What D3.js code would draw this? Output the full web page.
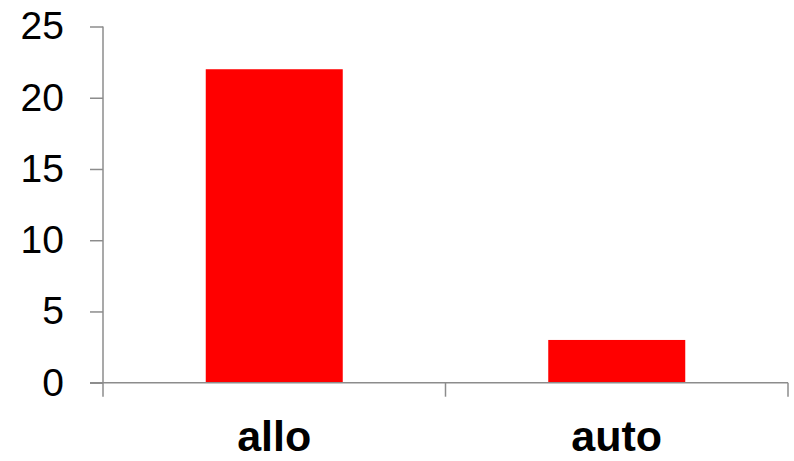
<!DOCTYPE html>
<html>
<head>
<meta charset="utf-8">
<script src="https://cdn.jsdelivr.net/npm/d3@7"></script>
<style>
  body { margin: 0; background: #fff; }
  svg { display: block; font-family: Arial, "Liberation Sans", sans-serif; }
</style>
</head>
<body>
<div id="chart"></div>
<script>
var categories = ['allo', 'auto'];
var values = [22, 3];
var yTicks = [0, 5, 10, 15, 20, 25];

var width = 794, height = 461;
var axisColor = '#8c8c8c';

var svg = d3.select('#chart').append('svg')
    .attr('width', width)
    .attr('height', height);

var x = d3.scaleBand()
    .domain(categories)
    .range([103, 788])
    .paddingInner(0.6)
    .paddingOuter(0.3);

var y = d3.scaleLinear()
    .domain([0, 25])
    .range([382.7, 26.5]);

// bars
svg.selectAll('rect.bar')
    .data(categories)
    .enter().append('rect')
    .classed('bar', true)
    .attr('x', function(d) { return x(d); })
    .attr('width', x.bandwidth())
    .attr('y', function(d, i) { return y(values[i]); })
    .attr('height', function(d, i) { return y(0) - y(values[i]); })
    .attr('fill', '#ff0000');

// y axis
var yAxis = svg.append('g')
    .attr('transform', 'translate(103,0)')
    .call(d3.axisLeft(y).tickValues(yTicks).tickSize(13).tickPadding(26));
yAxis.select('.domain').remove();
yAxis.selectAll('.tick line').attr('stroke', axisColor).attr('stroke-width', 1.5);
yAxis.selectAll('.tick text')
    .attr('font-size', 39)
    .attr('fill', '#000')
    .attr('font-family', 'Arial, "Liberation Sans", sans-serif');

svg.append('line')
    .attr('x1', 103).attr('x2', 103)
    .attr('y1', y(25)).attr('y2', y(0) + 14)
    .attr('stroke', axisColor).attr('stroke-width', 1.5);

// x axis
svg.append('line')
    .attr('x1', 90).attr('x2', x.range()[1])
    .attr('y1', y(0)).attr('y2', y(0))
    .attr('stroke', axisColor).attr('stroke-width', 1.5);

var boundaries = d3.range(1, categories.length + 1).map(function(i) {
    return x.range()[0] + i * x.step();
});
svg.selectAll('line.xtick')
    .data(boundaries)
    .enter().append('line')
    .classed('xtick', true)
    .attr('x1', function(d) { return d; })
    .attr('x2', function(d) { return d; })
    .attr('y1', y(0))
    .attr('y2', y(0) + 14)
    .attr('stroke', axisColor).attr('stroke-width', 1.5);

svg.selectAll('text.cat')
    .data(categories)
    .enter().append('text')
    .classed('cat', true)
    .attr('x', function(d) { return x(d) + x.bandwidth() / 2; })
    .attr('y', 451)
    .attr('text-anchor', 'middle')
    .attr('font-size', 43)
    .attr('font-weight', 'bold')
    .text(function(d) { return d; });
</script>
</body>
</html>
